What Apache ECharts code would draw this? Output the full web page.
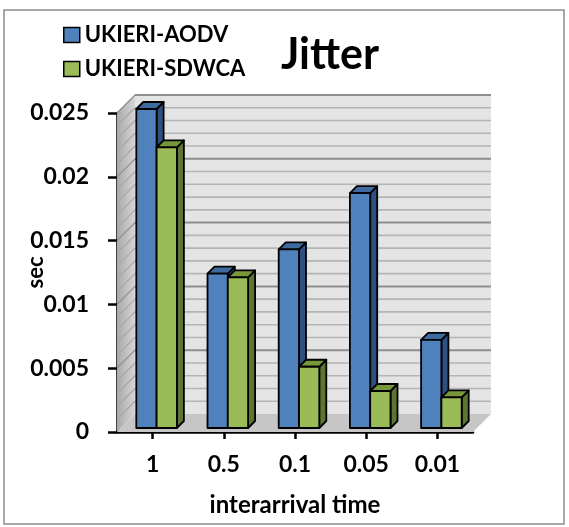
<!DOCTYPE html>
<html>
<head>
<meta charset="utf-8">
<script src="https://cdn.jsdelivr.net/npm/echarts@6/dist/echarts.min.js"></script>
<style>
  html, body { margin: 0; padding: 0; background: #ffffff; }
  #chart { width: 569px; height: 527px; }
</style>
</head>
<body>
<div id="chart"></div>
<script>
// Jitter per interarrival time for the two routing schemes
const categories = ['1', '0.5', '0.1', '0.05', '0.01'];
const aodv = [0.025, 0.0121, 0.0140, 0.0184, 0.0069];
const sdwca = [0.022, 0.0118, 0.0048, 0.0029, 0.0024];
const seriesNames = ['UKIERI-AODV', 'UKIERI-SDWCA'];
const yTicks = { min: 0, max: 0.025, interval: 0.005, minorStep: 0.001 };

const FONT = 'Lato, "Open Sans", sans-serif';
const WALL_DEPTH = 18;   // depth of the 3D box (side wall / floor)
const BAR_POS = 4;       // bars sit this far back into the box
const BAR_DEPTH = 7;     // thickness of each 3D bar
const palette = [
  { front: '#4f81bd', top: '#3f6aa0', side: '#2e5181' },
  { front: '#9bbb59', top: '#78963c', side: '#5c7530' }
];

const chart = echarts.init(document.getElementById('chart'), null, { renderer: 'canvas' });

// Back wall, left wall and floor with their grid lines
function renderBox(params, api) {
  const cs = params.coordSys;
  const D = WALL_DEPTH;
  const left = cs.x, right = cs.x + cs.width, top = cs.y, bottom = cs.y + cs.height;
  const children = [];
  children.push({
    type: 'rect',
    shape: { x: left + D, y: top - D, width: cs.width, height: cs.height },
    style: { fill: '#e4e4e4' }
  });
  children.push({
    type: 'polygon',
    shape: { points: [[left, bottom], [left, top], [left + D, top - D], [left + D, bottom - D]] },
    style: {
      fill: new echarts.graphic.LinearGradient(0, 0, 1, 0, [
        { offset: 0, color: '#a9a9a9' }, { offset: 1, color: '#d6d6d6' }
      ])
    }
  });
  children.push({
    type: 'polygon',
    shape: { points: [[left, bottom], [left + D, bottom - D], [right + D, bottom - D], [right, bottom]] },
    style: { fill: '#c6c6c6' }
  });
  const steps = Math.round((yTicks.max - yTicks.min) / yTicks.minorStep);
  const majorEvery = Math.round(yTicks.interval / yTicks.minorStep);
  for (let i = 1; i <= steps; i++) {
    const v = yTicks.min + i * yTicks.minorStep;
    const y = api.coord([0, v])[1];
    const major = i % majorEvery === 0;
    const color = major ? '#8e8e8e' : '#b5b5b5';
    const lw = major ? 2 : 1.6;
    children.push({
      type: 'line',
      shape: { x1: left + D, y1: y - D, x2: right + D, y2: y - D },
      style: { stroke: color, lineWidth: lw }
    });
    children.push({
      type: 'line',
      shape: { x1: left, y1: y, x2: left + D, y2: y - D },
      style: { stroke: major ? '#8e8e8e' : '#a8a8a8', lineWidth: 1.2 }
    });
  }
  return { type: 'group', children: children };
}

// 3D bar: front face, top face and side face
function makeBarRenderer(idx) {
  const col = palette[idx];
  return function (params, api) {
    const c = api.coord([api.value(0), api.value(1)]);
    const base = api.coord([api.value(0), 0]);
    const band = api.size([1, 0])[0];
    const w = band * 0.285;
    const B = BAR_DEPTH;
    const x0 = c[0] - w + BAR_POS + idx * w;
    const yTop = c[1] - BAR_POS;
    const yBot = base[1] - BAR_POS;
    const stroke = { stroke: '#000', lineWidth: 1.8, lineJoin: 'round' };
    return {
      type: 'group',
      children: [
        {
          type: 'polygon',
          shape: { points: [[x0 + w, yTop], [x0 + w + B, yTop - B], [x0 + w + B, yBot - B], [x0 + w, yBot]] },
          style: Object.assign({ fill: col.side }, stroke)
        },
        {
          type: 'polygon',
          shape: { points: [[x0, yTop], [x0 + B, yTop - B], [x0 + w + B, yTop - B], [x0 + w, yTop]] },
          style: Object.assign({ fill: col.top }, stroke)
        },
        {
          type: 'rect',
          shape: { x: x0, y: yTop, width: w, height: yBot - yTop },
          style: Object.assign({ fill: col.front }, stroke)
        }
      ]
    };
  };
}

const option = {
  animation: false,
  backgroundColor: '#ffffff',
  textStyle: { fontFamily: FONT },
  graphic: [
    {
      type: 'rect',
      shape: { x: 4, y: 10, width: 560, height: 514 },
      style: { fill: 'none', stroke: '#8c8c8c', lineWidth: 1.5 },
      z: -10
    }
  ],
  title: {
    text: 'Jitter',
    left: 276,
    top: 29,
    textStyle: { fontFamily: FONT, fontWeight: 'bold', fontSize: 43, color: '#000' }
  },
  legend: {
    orient: 'vertical',
    left: 58,
    top: 19,
    itemWidth: 16,
    itemHeight: 15,
    itemGap: 12,
    textStyle: { fontFamily: FONT, fontWeight: 'bold', fontSize: 22, color: '#000' },
    data: [
      { name: seriesNames[0], icon: 'rect', itemStyle: { color: palette[0].front, borderColor: '#000', borderWidth: 1.5 } },
      { name: seriesNames[1], icon: 'rect', itemStyle: { color: palette[1].front, borderColor: '#000', borderWidth: 1.5 } }
    ]
  },
  grid: { left: 117, right: 96, top: 113, bottom: 95 },
  xAxis: {
    type: 'category',
    data: categories,
    name: 'interarrival time',
    nameLocation: 'middle',
    nameGap: 61,
    nameMoveOverlap: false,
    nameTextStyle: { fontFamily: FONT, fontWeight: 'bold', fontSize: 24, color: '#000' },
    axisLine: { show: true, lineStyle: { color: '#000', width: 2.5 } },
    axisTick: { show: true, alignWithLabel: true, length: 7, lineStyle: { color: '#000', width: 2.5 } },
    axisLabel: { margin: 21, fontFamily: FONT, fontWeight: 'bold', fontSize: 23, color: '#000' },
    splitLine: { show: false }
  },
  yAxis: {
    type: 'value',
    min: yTicks.min,
    max: yTicks.max,
    interval: yTicks.interval,
    name: 'sec',
    nameLocation: 'middle',
    nameGap: 70,
    nameMoveOverlap: false,
    nameTextStyle: { fontFamily: FONT, fontWeight: 'bold', fontSize: 22, color: '#000' },
    axisLine: { show: true, lineStyle: { color: '#000', width: 2.5 } },
    axisTick: { show: true, inside: false, length: 9, lineStyle: { color: '#000', width: 2.5 } },
    axisLabel: { margin: 28, fontFamily: FONT, fontWeight: 'bold', fontSize: 23, color: '#000' },
    splitLine: { show: false }
  },
  series: [
    {
      type: 'custom',
      name: 'box',
      silent: true,
      z: 1,
      renderItem: renderBox,
      data: [[0, 0]]
    },
    {
      type: 'custom',
      name: seriesNames[0],
      z: 3,
      itemStyle: { color: palette[0].front },
      renderItem: makeBarRenderer(0),
      data: aodv.map((v, i) => [i, v])
    },
    {
      type: 'custom',
      name: seriesNames[1],
      z: 4,
      itemStyle: { color: palette[1].front },
      renderItem: makeBarRenderer(1),
      data: sdwca.map((v, i) => [i, v])
    }
  ]
};

chart.setOption(option);
</script>
</body>
</html>
